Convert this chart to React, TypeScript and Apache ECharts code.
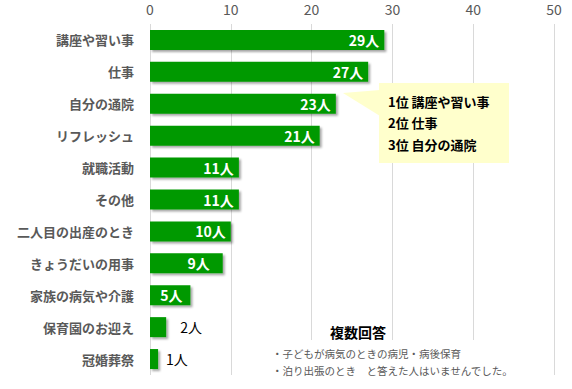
import React, { useEffect, useRef } from "react";
import * as echarts from "echarts";

const categories = [
  "講座や習い事",
  "仕事",
  "自分の通院",
  "リフレッシュ",
  "就職活動",
  "その他",
  "二人目の出産のとき",
  "きょうだいの用事",
  "家族の病気や介護",
  "保育園のお迎え",
  "冠婚葬祭",
];
const counts = [29, 27, 23, 21, 11, 11, 10, 9, 5, 2, 1];
const axisMin = 0;
const axisMax = 50;
const axisInterval = 10;
const rankingLines = ["1位 講座や習い事", "2位 仕事", "3位 自分の通院"];
const noteTitle = "複数回答";
const noteLines = [
  "・子どもが病気のときの病児・病後保育",
  "・泊り出張のとき　と答えた人はいませんでした。",
];

const FONT = '"Noto Sans CJK JP", "Noto Sans", sans-serif';

function insideDistance(v: number) {
  if (v === 9) return 13;
  if (v === 5) return 8;
  return 5;
}

export default function App() {
  const ref = useRef<HTMLDivElement>(null);
  useEffect(() => {
    document.body.style.margin = "0";
    if (!ref.current) return;
    const chart = echarts.init(ref.current, undefined, { renderer: "svg" });
    const data = counts.map((v) => {
      const inside = v >= 5;
      return {
        value: v,
        label: inside
          ? {
              show: true,
              position: "insideRight",
              distance: insideDistance(v),
              color: "#ffffff",
              fontWeight: "bold",
              fontSize: 14,
              fontFamily: FONT,
              formatter: "{c}人",
            }
          : {
              show: true,
              position: "right",
              distance: v === 2 ? 14 : 8,
              color: "#000000",
              fontWeight: "normal",
              fontSize: 14,
              fontFamily: FONT,
              formatter: "{c}人",
            },
      };
    });
    chart.setOption({
      animation: false,
      backgroundColor: "#ffffff",
      textStyle: { fontFamily: FONT },
      grid: { left: 150, right: 18, top: 24, bottom: 14, containLabel: false },
      xAxis: {
        type: "value",
        position: "top",
        min: axisMin,
        max: axisMax,
        interval: axisInterval,
        axisLine: { show: false },
        axisTick: { show: false },
        axisLabel: { color: "#595959", fontSize: 14, margin: 8, fontFamily: FONT },
        splitLine: { show: true, lineStyle: { color: "#d9d9d9", width: 1 } },
      },
      yAxis: {
        type: "category",
        data: categories,
        inverse: true,
        axisLine: { show: false },
        axisTick: { show: false },
        axisLabel: {
          color: "#595959",
          fontSize: 13,
          fontWeight: "bold",
          margin: 16,
          fontFamily: FONT,
        },
      },
      series: [
        {
          type: "bar",
          data,
          barWidth: 20,
          itemStyle: {
            color: "#009900",
            shadowColor: "rgba(0,0,0,0.35)",
            shadowBlur: 2,
            shadowOffsetX: 2,
            shadowOffsetY: 2,
          },
        },
      ],
      graphic: [
        {
          type: "polygon",
          shape: { points: [[343, 93], [380, 90], [380, 116]] },
          style: { fill: "#ffffcc" },
          z: 100,
        },
        {
          type: "rect",
          shape: { x: 379, y: 83, width: 130, height: 80 },
          style: { fill: "#ffffcc" },
          z: 100,
        },
        ...rankingLines.map((t, i) => ({
          type: "text",
          x: 388,
          y: 101 + i * 21.5,
          style: {
            text: t,
            fill: "#000000",
            fontSize: 13,
            fontWeight: "bold",
            fontFamily: FONT,
            verticalAlign: "middle",
          },
          z: 101,
        })),
        {
          type: "text",
          x: 330,
          y: 332,
          style: {
            text: noteTitle,
            fill: "#000000",
            fontSize: 14,
            fontWeight: "bold",
            fontFamily: FONT,
            verticalAlign: "middle",
          },
          z: 101,
        },
        {
          type: "rect",
          shape: { x: 262, y: 340, width: 268, height: 49 },
          style: { fill: "#ffffff" },
          z: 100,
        },
        ...noteLines.map((t, i) => ({
          type: "text",
          x: 272,
          y: 353 + i * 17,
          style: {
            text: t,
            fill: "#595959",
            fontSize: 10.5,
            fontFamily: FONT,
            verticalAlign: "middle",
          },
          z: 101,
        })),
      ],
    });
    return () => chart.dispose();
  }, []);
  return <div ref={ref} style={{ width: 572, height: 389 }} />;
}
